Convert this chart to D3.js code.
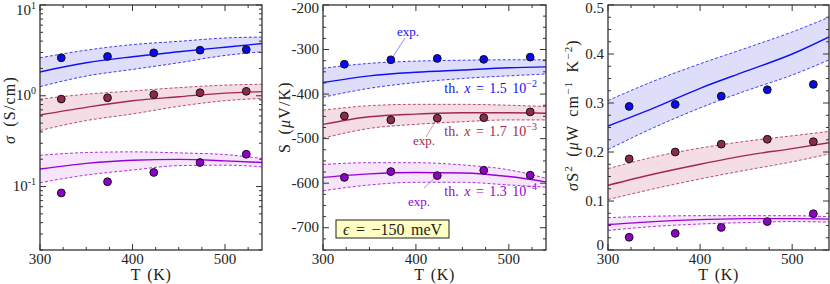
<!DOCTYPE html>
<html>
<head>
<meta charset="utf-8">
<script src="https://cdn.jsdelivr.net/npm/d3@7"></script>
<style>
  body { margin: 0; background: #fff; }
  svg { display: block; }
  text { font-family: "Liberation Serif", "DejaVu Serif", serif; fill: #222; }
</style>
</head>
<body>
<svg id="chart" width="830" height="284" font-family="Liberation Serif, DejaVu Serif, serif"></svg>
<script>
// temperatures
const tExp = [323, 373, 423, 473, 523];
const tTh = [300, 350, 400, 450, 500, 540];

// series: x = 1.5e-2, 1.7e-3, 1.3e-4
const lineColors = ["#1010f5", "#a3284f", "#9a00d6"];
const dotColors = ["#0808f2", "#8c2a4c", "#9000cc"];
const bandColors = ["#dedefa", "#f4dde5", "#f7e6fb"];

// conductivity sigma (S/cm)
const sigmaExp = [
  [2.62, 2.71, 2.97, 3.18, 3.23],
  [0.92, 0.95, 1.03, 1.08, 1.12],
  [0.085, 0.113, 0.143, 0.184, 0.227]
];
const sigmaTh = [
  [1.83, 2.31, 2.69, 3.05, 3.43, 3.76],
  [0.615, 0.746, 0.882, 0.975, 1.07, 1.11],
  [0.156, 0.18, 0.195, 0.199, 0.192, 0.184]
];
const sigmaHi = [
  [2.62, 3.18, 3.66, 3.98, 4.33, 4.44],
  [0.92, 1.04, 1.13, 1.23, 1.31, 1.34],
  [0.221, 0.237, 0.241, 0.235, 0.225, 0.204]
];
const sigmaLo = [
  [1.26, 1.65, 1.95, 2.31, 2.78, 3.05],
  [0.415, 0.533, 0.631, 0.765, 0.882, 0.935],
  [0.11, 0.134, 0.152, 0.17, 0.172, 0.165]
];

// Seebeck S (uV/K)
const seebExp = [
  [-333, -323, -320, -322, -317],
  [-449, -458, -454, -453, -440],
  [-587, -574, -583, -571, -582]
];
const seebTh = [
  [-374, -359, -351, -346, -341, -339],
  [-468, -451, -445, -442, -442, -443],
  [-587, -579, -576, -577, -585, -597]
];
const seebHi = [
  [-342, -331, -326, -324, -323, -323],
  [-436, -426, -423, -423, -425, -428],
  [-558, -554, -554, -559, -570, -589]
];
const seebLo = [
  [-407, -387, -374, -365, -359, -355],
  [-499, -477, -468, -462, -458, -458],
  [-617, -604, -598, -598, -604, -609]
];

// power factor sigma S^2
const pfExp = [
  [0.293, 0.297, 0.314, 0.327, 0.338],
  [0.186, 0.2, 0.216, 0.226, 0.221],
  [0.026, 0.034, 0.046, 0.058, 0.074]
];
const pfTh = [
  [0.253, 0.29, 0.33, 0.365, 0.4, 0.435],
  [0.132, 0.155, 0.175, 0.193, 0.207, 0.219],
  [0.052, 0.058, 0.062, 0.064, 0.064, 0.063]
];
const pfHi = [
  [0.305, 0.345, 0.38, 0.412, 0.445, 0.475],
  [0.166, 0.19, 0.208, 0.222, 0.233, 0.242],
  [0.066, 0.069, 0.07, 0.07, 0.07, 0.068]
];
const pfLo = [
  [0.205, 0.25, 0.29, 0.325, 0.357, 0.388],
  [0.103, 0.125, 0.145, 0.163, 0.18, 0.196],
  [0.04, 0.048, 0.053, 0.056, 0.058, 0.057]
];

const xTicks = [300, 400, 500];

const svg = d3.select("#chart");
const plotTop = 5, plotBottom = 250;

function drawPanel(p) {
  const x = d3.scaleLinear().domain([300, 540]).range([p.left, p.right]);
  const y = p.y;
  const g = svg.append("g");
  const clipId = "clip" + p.left;
  svg.append("clipPath").attr("id", clipId)
    .append("rect").attr("x", p.left).attr("y", plotTop)
    .attr("width", p.right - p.left).attr("height", plotBottom - plotTop);
  const plot = g.append("g").attr("clip-path", `url(#${clipId})`);

  const area = d3.area().curve(d3.curveMonotoneX)
    .x((d, i) => x(tTh[i])).y0(d => y(d[0])).y1(d => y(d[1]));
  const line = d3.line().curve(d3.curveMonotoneX)
    .x((d, i) => x(tTh[i])).y(d => y(d));

  for (let s = 0; s < 3; s++) {
    const band = p.lo[s].map((v, i) => [v, p.hi[s][i]]);
    plot.append("path").datum(band).attr("d", area)
      .attr("fill", bandColors[s]).attr("stroke", "none");
    [p.lo[s], p.hi[s]].forEach(arr => {
      plot.append("path").datum(arr).attr("d", line)
        .attr("fill", "none").attr("stroke", lineColors[s])
        .attr("stroke-width", 0.8).attr("stroke-dasharray", "3,2");
    });
    plot.append("path").datum(p.th[s]).attr("d", line)
      .attr("fill", "none").attr("stroke", lineColors[s]).attr("stroke-width", 1.4);
  }
  for (let s = 0; s < 3; s++) {
    g.selectAll(null).data(p.exp[s]).join("circle")
      .attr("cx", (d, i) => x(tExp[i])).attr("cy", d => y(d)).attr("r", 3.9)
      .attr("fill", dotColors[s]).attr("stroke", "#111").attr("stroke-width", 1);
  }

  // ticks (inward, mirrored)
  const axG = g.append("g").attr("stroke", "#333");
  const minorX = d3.range(300, 541, 25);
  minorX.forEach(t => {
    const len = t % 100 === 0 ? 6 : 3;
    axG.append("line").attr("x1", x(t)).attr("x2", x(t)).attr("y1", plotBottom).attr("y2", plotBottom - len);
    axG.append("line").attr("x1", x(t)).attr("x2", x(t)).attr("y1", plotTop).attr("y2", plotTop + len);
  });
  p.yMinor.forEach(v => {
    const len = p.yMajor.includes(v) ? 6 : 3;
    const yy = y(v);
    axG.append("line").attr("x1", p.left).attr("x2", p.left + len).attr("y1", yy).attr("y2", yy);
    axG.append("line").attr("x1", p.right).attr("x2", p.right - len).attr("y1", yy).attr("y2", yy);
  });
  g.append("rect").attr("x", p.left).attr("y", plotTop)
    .attr("width", p.right - p.left).attr("height", plotBottom - plotTop)
    .attr("fill", "none").attr("stroke", "#333").attr("stroke-width", 1.3);

  // tick labels
  g.selectAll(null).data(xTicks).join("text")
    .attr("x", d => x(d)).attr("y", 264).attr("text-anchor", "middle")
    .attr("font-size", 15).text(d => d);
  p.yMajor.forEach(v => p.yLabel(g.append("text")
    .attr("x", p.left - 4)
    .attr("y", Math.min(Math.max(y(v) + 4.5, p.minBase || 13), 250))
    .attr("text-anchor", "end").attr("font-size", 15), v));

  g.append("text").attr("x", (p.left + p.right) / 2).attr("y", 280)
    .attr("text-anchor", "middle").attr("font-size", 16)
    .attr("letter-spacing", 0.6).attr("word-spacing", 2).text("T (K)");
  const yt = g.append("text").attr("font-size", 16).attr("text-anchor", "middle")
    .attr("letter-spacing", 1.2).attr("word-spacing", 3)
    .attr("transform", `translate(${p.titleX},${p.titleY}) rotate(-90)`);
  p.title(yt);
  return { x, y, g };
}

// panel 1: sigma, log axis
const yLog = d3.scaleLog().domain([0.02, 10]).range([plotBottom, plotTop]);
const logMinor = [];
[0.01, 0.1, 1].forEach(dec => d3.range(1, 10).forEach(k => {
  const v = +(dec * k).toPrecision(3);
  if (v >= 0.02 && v <= 10) logMinor.push(v);
}));
logMinor.push(10);
drawPanel({
  left: 40, right: 262, y: yLog, minBase: 15,
  exp: sigmaExp, th: sigmaTh, hi: sigmaHi, lo: sigmaLo,
  yMajor: [0.1, 1, 10], yMinor: logMinor,
  yLabel: (t, v) => {
    t.append("tspan").text("10");
    t.append("tspan").attr("dy", -6).attr("font-size", 10).text(Math.round(Math.log10(v)));
  },
  titleX: 15, titleY: 110,
  title: t => {
    t.append("tspan").attr("font-style", "italic").text("σ");
    t.append("tspan").text(" (S/cm)");
  }
});

// panel 2: Seebeck
const yS = d3.scaleLinear().domain([-750, -200]).range([plotBottom, plotTop]);
const p2 = drawPanel({
  left: 323, right: 546, y: yS,
  exp: seebExp, th: seebTh, hi: seebHi, lo: seebLo,
  yMajor: d3.range(-700, -199, 100), yMinor: d3.range(-750, -199, 25),
  yLabel: (t, v) => t.text(v),
  titleX: 290, titleY: 117,
  title: t => {
    t.append("tspan").text("S (");
    t.append("tspan").attr("font-style", "italic").text("μ");
    t.append("tspan").text("V/K)");
  }
});

// panel 3: power factor
const yP = d3.scaleLinear().domain([0, 0.5]).range([plotBottom, plotTop]);
drawPanel({
  left: 608, right: 829, y: yP,
  exp: pfExp, th: pfTh, hi: pfHi, lo: pfLo,
  yMajor: [0, 0.1, 0.2, 0.3, 0.4, 0.5],
  yMinor: d3.range(0, 21).map(k => +(k * 0.025).toFixed(3)),
  yLabel: (t, v) => t.text(v === 0 ? "0" : v.toFixed(1)),
  titleX: 578, titleY: 115,
  title: t => {
    t.append("tspan").attr("font-style", "italic").text("σ");
    t.append("tspan").text("S");
    t.append("tspan").attr("dy", -6).attr("font-size", 11).text("2");
    t.append("tspan").attr("dy", 6).text(" (");
    t.append("tspan").attr("font-style", "italic").text("μ");
    t.append("tspan").text("W cm");
    t.append("tspan").attr("dy", -6).attr("font-size", 11).text("−1");
    t.append("tspan").attr("dy", 6).text(" K");
    t.append("tspan").attr("dy", -6).attr("font-size", 11).text("−2");
    t.append("tspan").attr("dy", 6).text(")");
  }
});

// annotations in Seebeck panel
const thLabels = ["1.5", "1.7", "1.3"];
const thExps = ["−2", "−3", "−4"];
const thY = [93, 136, 196];
thLabels.forEach((m, s) => {
  const t = svg.append("text").attr("x", 537).attr("y", thY[s])
    .attr("text-anchor", "end").attr("font-size", 14).attr("word-spacing", 2)
    .style("fill", lineColors[s]);
  t.append("tspan").text("th. ");
  t.append("tspan").attr("font-style", "italic").text("x");
  t.append("tspan").text(" = " + m + " 10");
  t.append("tspan").attr("dy", -6).attr("font-size", 10).text(thExps[s]);
});
const expIdx = [1, 2, 2];
const expTxt = [[397, 36], [413, 145], [408, 206]];
const expLine = [[405, 38], [426, 137], [424, 188]];
expIdx.forEach((k, s) => {
  const px = p2.x(tExp[k]), py = p2.y(seebExp[s][k]);
  const ang = Math.atan2(expLine[s][1] - py, expLine[s][0] - px);
  svg.append("line").attr("x1", expLine[s][0]).attr("y1", expLine[s][1])
    .attr("x2", px + 4 * Math.cos(ang)).attr("y2", py + 4 * Math.sin(ang))
    .attr("stroke", lineColors[s]).attr("stroke-width", 0.6).attr("opacity", 0.8);
  svg.append("text").attr("x", expTxt[s][0]).attr("y", expTxt[s][1])
    .attr("font-size", 13).style("fill", lineColors[s]).text("exp.");
});

// epsilon box
svg.append("rect").attr("x", 336).attr("y", 220).attr("width", 113).attr("height", 18)
  .attr("fill", "#ffffc4").attr("stroke", "#222").attr("stroke-width", 1);
const eps = svg.append("text").attr("x", 392.5).attr("y", 234.5).attr("text-anchor", "middle")
  .attr("font-size", 16).attr("word-spacing", 2.5);
eps.append("tspan").attr("font-style", "italic").text("ϵ");
eps.append("tspan").text(" = −150 meV");
</script>
</body>
</html>
